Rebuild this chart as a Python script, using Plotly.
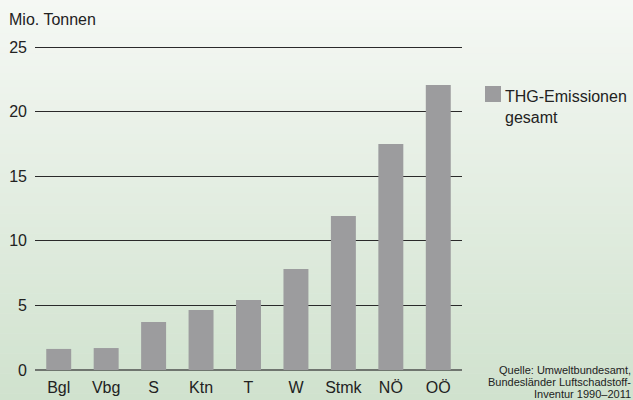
import plotly.graph_objects as go

categories = ["Bgl", "Vbg", "S", "Ktn", "T", "W", "Stmk", "NÖ", "OÖ"]
values = [1.63, 1.70, 3.72, 4.64, 5.42, 7.82, 11.92, 17.49, 22.06]
tick_vals = [0, 5, 10, 15, 20, 25]
series_name = "THG-Emissionen<br>gesamt"
unit_label = "Mio. Tonnen"
source_lines = ["Quelle: Umweltbundesamt,", "Bundesländer Luftschadstoff-", "Inventur 1990–2011"]

W, H = 633, 400
ML, MR, MT, MB = 35, 171, 45, 30
PW, PH = W - ML - MR, H - MT - MB
SCALE = 323 / 25.0  # px per unit
YTOP = PH / SCALE
FONT = "Liberation Sans, Arial, sans-serif"
BAR = "#9c9c9e"

def px(x):
    return (x - ML) / PW

def py(y):
    return (H - MB - y) / PH

fig = go.Figure()
fig.add_trace(go.Bar(x=categories, y=values, marker_color=BAR, marker_line_width=0,
                     name=series_name, showlegend=False))

shapes = []
# background gradient
n = 60
top = (245, 248, 244)
bot = (208, 226, 206)
for i in range(n):
    t = i / (n - 1)
    c = tuple(round(top[k] + (bot[k] - top[k]) * t) for k in range(3))
    y0 = i * H / n
    y1 = (i + 1) * H / n + 0.5
    shapes.append(dict(type="rect", xref="paper", yref="paper", layer="below",
                       x0=px(0), x1=px(W), y0=py(y1), y1=py(y0),
                       fillcolor="rgb(%d,%d,%d)" % c, line_width=0))
# legend swatch
shapes.append(dict(type="rect", xref="paper", yref="paper",
                   x0=px(485), x1=px(501), y0=py(102), y1=py(86),
                   fillcolor=BAR, line_width=0))

annotations = [
    dict(text=unit_label, xref="paper", yref="paper", x=px(7), y=py(9),
         xanchor="left", yanchor="top", showarrow=False,
         font=dict(family=FONT, size=16, color="#222")),
    dict(text=series_name, xref="paper", yref="paper", x=px(503), y=py(86),
         xanchor="left", yanchor="top", showarrow=False, align="left",
         font=dict(family=FONT, size=16, color="#222")),
]
for i, line in enumerate(source_lines):
    annotations.append(dict(text=line, xref="paper", yref="paper",
                            x=px(633), y=py(362 + i * 12), xanchor="right", yanchor="top",
                            showarrow=False, font=dict(family=FONT, size=11, color="#222")))

fig.update_layout(
    width=W, height=H,
    margin=dict(l=ML, r=MR, t=MT, b=MB, pad=0, autoexpand=False),
    paper_bgcolor="#eef3ec", plot_bgcolor="rgba(0,0,0,0)",
    bargap=0.474,
    font=dict(family=FONT, size=16, color="#222"),
    shapes=shapes, annotations=annotations,
    showlegend=False,
)
fig.update_xaxes(showgrid=False, showline=False, ticks="", ticklabelstandoff=6,
                 automargin=False, tickfont=dict(size=16, color="#222"))
fig.update_yaxes(range=[0, YTOP], tickvals=tick_vals, showgrid=True, gridcolor="#2a2a2a",
                 gridwidth=1, zeroline=True, zerolinecolor="#6f756f", zerolinewidth=2,
                 showline=False, ticks="", ticklabelstandoff=7, automargin=False,
                 tickfont=dict(size=16, color="#222"))

fig.write_html("out.html", config={"displayModeBar": False},
               post_script="document.body.style.margin='0';document.body.style.padding='0';"
                           "document.body.style.overflow='hidden';")
